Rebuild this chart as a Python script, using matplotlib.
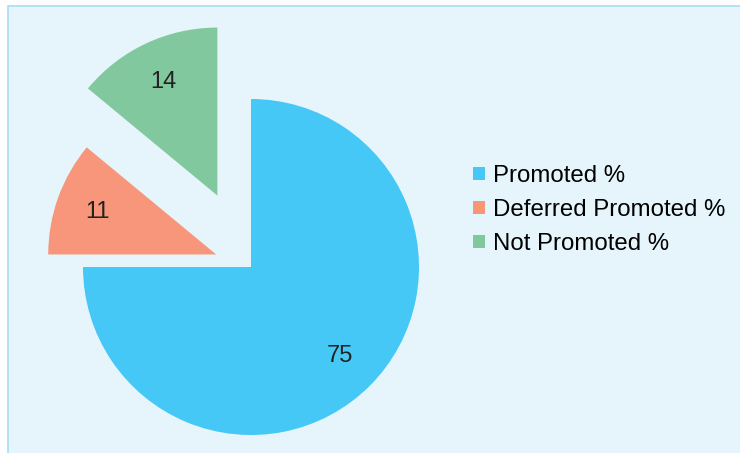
import matplotlib
matplotlib.use("Agg")
import matplotlib.pyplot as plt
from matplotlib.patches import Rectangle, Patch

categories = ["Promoted %", "Deferred Promoted %", "Not Promoted %"]
values = [75, 11, 14]
colors = ["#45C8F5", "#F7967A", "#82C89E"]
explode = [0.0, 0.22, 0.47]

plt.rcParams['font.family'] = ['Liberation Sans', 'DejaVu Sans']

W, H = 740, 453
fig = plt.figure(figsize=(W / 100, H / 100), dpi=100)
fig.patch.set_facecolor("white")
# panel background with border
bg = Rectangle((8 / W, -0.01), 1.02, 1 - 6 / H + 0.01, transform=fig.transFigure,
               facecolor="#E6F5FC", edgecolor="#A8DEF2", linewidth=1.2, zorder=-5)
fig.patches.append(bg)

ax = fig.add_axes([0, 0, 1, 1])
ax.set_facecolor("none")
ax.set_zorder(2)
wedges, texts, autotexts = ax.pie(values, colors=colors, explode=explode, startangle=90,
                                  counterclock=False, autopct=lambda p: f"{p:.0f}",
                                  pctdistance=0.75, radius=1.0,
                                  textprops=dict(fontsize=17, color="#222222"))
cx, cy, r = 251, 267, 168
ax.set_xlim(-cx / r, (W - cx) / r)
ax.set_ylim(-(H - cy) / r, cy / r)
ax.set_aspect("auto")
ax.axis("off")

handles = [Patch(facecolor=c, edgecolor="none") for c in colors]
leg = fig.legend(handles, categories, loc="center left", bbox_to_anchor=(473 / W, 1 - 210 / H),
                 frameon=False, fontsize=17.3, handlelength=0.5, handleheight=0.5,
                 handletextpad=0.35, labelspacing=0.5, borderaxespad=0, borderpad=0)
leg.set_zorder(3)

fig.savefig("out.png", dpi=100)
